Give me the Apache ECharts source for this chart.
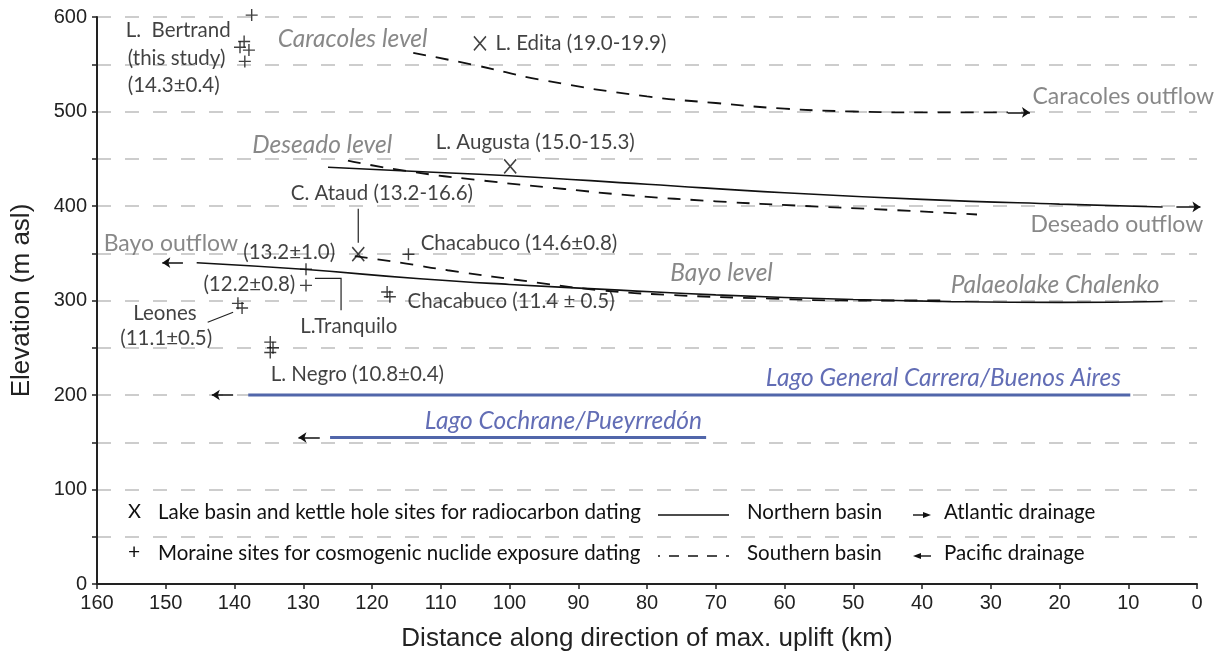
<!DOCTYPE html>
<html>
<head>
<meta charset="utf-8">
<script src="https://cdn.jsdelivr.net/npm/echarts@6/dist/echarts.min.js"></script>
<style>
html,body{margin:0;padding:0;background:#fff}
#main{width:1225px;height:658px}
</style>
</head>
<body>
<div id="main"></div>
<script>
// lake level profiles, [distance km, elevation m asl]
var caracolesSouth = [[114,562],[105,549],[95,533],[80,516],[70,509],[60,503],[50,500],[40,499],[27.5,499]];
var deseadoNorth = [[126.4,441],[115,437],[100,432],[80,423],[60,414],[40,407],[20,402],[5,399]];
var deseadoSouth = [[123.5,448],[115,437],[104,427],[92,418],[82,411],[70,405],[57,400],[45,396],[32,391]];
var bayoNorth = [[145.5,340],[130,333],[113,323],[100,317],[84,311],[70,306],[50,301],[37,299],[20,298],[5,299]];
var bayoSouth = [[122.5,347],[115,339],[109,332],[96,319],[87,311],[77,306],[62,302],[50,300],[37,300]];
var generalCarrera = [[138,200],[9.7,200]];
var cochrane = [[126.1,155],[71.4,155]];

// drainage arrows [from, to]
var atlanticArrows = [[[27.5,499],[24.3,499]], [[3,399],[-0.5,399]]];
var pacificArrows = [[[147.5,340],[150.5,340]], [[140.2,200],[143.3,200]], [[127.6,155],[130.7,155]]];

// dated sites
var radiocarbonSites = [[104.3,572],[99.9,442],[122,349]];
var moraineSites = [[137.5,602],[138.6,574],[139.2,568],[137.9,565],[138.5,553],
  [129.6,333],[129.6,316],[114.7,349],[117.8,309],[117.4,304],
  [139.5,297],[138.9,292],[134.8,256],[134.4,250],[134.8,245]];

// leader lines for labels
var leaders = [
  [[122,397],[122,361]],
  [[143.9,277],[140.2,287.5]],
  [[128.3,323.5],[124.5,323.5],[124.5,289.6]]
];

// labels: [km, elev, text, kind]
var notes = [
  [155.9,585.6,'L.  Bertrand','black'],
  [155.6,556,'(this study)','black'],
  [155.6,527.5,'(14.3\u00b10.4)','black'],
  [133.8,577,'Caracoles level','greyItalic'],
  [102.1,572,'L. Edita (19.0-19.9)','black'],
  [24,516,'Caracoles outflow','grey'],
  [137.5,464,'Deseado level','greyItalic'],
  [110.8,467,'L. Augusta (15.0-15.3)','black'],
  [131.9,413,'C. Ataud (13.2-16.6)','black'],
  [24.3,380.5,'Deseado outflow','grey'],
  [159.1,360.5,'Bayo outflow','grey'],
  [138.8,351,'(13.2\u00b11.0)','black'],
  [113,360.5,'Chacabuco (14.6\u00b10.8)','black'],
  [76.7,329,'Bayo level','greyItalic'],
  [35.9,316,'Palaeolake Chalenko','greyItalic'],
  [144.6,317,'(12.2\u00b10.8)','black'],
  [114.9,299,'Chacabuco (11.4 \u00b1 0.5)','black'],
  [154.8,286.5,'Leones','black'],
  [156.7,260,'(11.1\u00b10.5)','black'],
  [130.5,272.7,'L.Tranquilo','black'],
  [134.8,222,'L. Negro (10.8\u00b10.4)','black'],
  [62.8,217.8,'Lago General Carrera/Buenos Aires','blue'],
  [112.4,172.3,'Lago Cochrane/Pueyrredón','blue']
];

var noteFont = 'Lato';
var noteStyles = {
  black: {color:'#111', fontSize:20.5, fontStyle:'normal'},
  grey: {color:'#6a6a6a', fontSize:23, fontStyle:'normal'},
  greyItalic: {color:'#6a6a6a', fontSize:24.5, fontStyle:'italic'},
  blue: {color:'#3b48a3', fontSize:24.5, fontStyle:'italic'}
};

var chart = echarts.init(document.getElementById('main'));

function profile(name, data, dashed, color, width) {
  return {
    name: name, type: 'line', data: data, smooth: true, symbol: 'none',
    lineStyle: {color: color || '#111', width: width || (dashed ? 1.8 : 1.6), type: dashed ? [13,10] : 'solid'},
    z: 3, silent: true
  };
}

var series = [
  profile('Caracoles S', caracolesSouth, true),
  profile('Deseado N', deseadoNorth, false),
  profile('Deseado S', deseadoSouth, true),
  profile('Bayo N', bayoNorth, false),
  profile('Bayo S', bayoSouth, true),
  profile('General Carrera', generalCarrera, false, '#5166aa', 3),
  profile('Cochrane', cochrane, false, '#5166aa', 3),
  {
    type: 'lines', coordinateSystem: 'cartesian2d', silent: true, clip: false,
    symbol: ['none','arrow'], symbolSize: 8,
    lineStyle: {color:'#111', width:1.5, opacity:1},
    data: atlanticArrows.concat(pacificArrows).map(function(c){ return {coords: c}; })
  },
  {
    type: 'lines', coordinateSystem: 'cartesian2d', polyline: true, silent: true,
    lineStyle: {color:'#222', width:1.2, opacity:1},
    data: leaders.map(function(c){ return {coords: c}; })
  },
  {
    type: 'scatter', data: radiocarbonSites, silent: true, clip: false,
    symbol: 'path://M0,0L10,12M10,0L0,12', symbolSize: [12,14],
    itemStyle: {color:'none', borderColor:'#111', borderWidth:1.6}, z: 4
  },
  {
    type: 'scatter', data: moraineSites, silent: true, clip: false,
    symbol: 'path://M5,0L5,10M0,5L10,5', symbolSize: 12,
    itemStyle: {color:'none', borderColor:'#111', borderWidth:1.4}, z: 4
  },
  {
    type: 'scatter', silent: true, clip: false, symbolSize: 1, itemStyle: {color:'rgba(0,0,0,0)'}, z: 5,
    data: notes.map(function(n){
      var s = noteStyles[n[3]];
      return {
        value: [n[0], n[1]],
        label: {
          show: true, position: 'right', distance: 0, formatter: n[2],
          color: s.color, fontSize: s.fontSize, fontStyle: s.fontStyle, fontFamily: noteFont
        }
      };
    })
  }
];

// legend drawn by hand under the curves
var lgFont = {fontFamily: noteFont, fontSize: 20.5, fill: '#111'};
function lgText(x, y, t) {
  return {type:'text', left:x, top:y - 13, style: Object.assign({text:t}, lgFont), z: 10};
}
var graphic = [
  {type:'text', left:128, top:502, style:{text:'X', fontFamily:noteFont, fontSize:20, fill:'#111'}},
  lgText(158, 515, 'Lake basin and kettle hole sites for radiocarbon dating'),
  {type:'text', left:128, top:542, style:{text:'+', fontFamily:noteFont, fontSize:21, fill:'#111'}},
  lgText(158, 556, 'Moraine sites for cosmogenic nuclide exposure dating'),
  {type:'line', shape:{x1:658,y1:515,x2:729,y2:515}, style:{stroke:'#111', lineWidth:1.4}},
  {type:'line', shape:{x1:658,y1:556,x2:729,y2:556}, style:{stroke:'#111', lineWidth:1.4, lineDash:[10,9], lineDashOffset:8}},
  lgText(747, 515, 'Northern basin'),
  lgText(747, 556, 'Southern basin'),
  {type:'line', shape:{x1:913,y1:515,x2:925,y2:515}, style:{stroke:'#111', lineWidth:1.4}},
  {type:'polygon', shape:{points:[[931,515],[923,512],[923,518]]}, style:{fill:'#111'}},
  {type:'line', shape:{x1:919,y1:556,x2:931,y2:556}, style:{stroke:'#111', lineWidth:1.4}},
  {type:'polygon', shape:{points:[[913,556],[921,553],[921,559]]}, style:{fill:'#111'}},
  lgText(944, 515, 'Atlantic drainage'),
  lgText(944, 556, 'Pacific drainage')
];

var axisFont = {fontFamily:'Liberation Sans', fontSize:20, color:'#222'};
var nameFont = {fontFamily:'Liberation Sans', fontSize:26, color:'#222'};

chart.setOption({
  animation: false,
  backgroundColor: '#fff',
  grid: {left: 97, right: 28, top: 17, bottom: 74},
  xAxis: {
    type: 'value', inverse: true, min: 0, max: 160, interval: 10,
    name: 'Distance along direction of max. uplift (km)',
    nameLocation: 'middle', nameGap: 42,
    nameTextStyle: nameFont,
    axisLine: {show: true, onZero: false, lineStyle: {color:'#222', width:2}},
    axisTick: {show: true, length: 5, lineStyle: {color:'#222', width:1.5}},
    axisLabel: Object.assign({margin: 9}, axisFont),
    splitLine: {show: false}
  },
  yAxis: {
    type: 'value', min: 0, max: 600, interval: 50,
    name: 'Elevation (m asl)',
    nameLocation: 'middle', nameGap: 62,
    nameTextStyle: nameFont,
    axisLine: {show: true, onZero: false, lineStyle: {color:'#222', width:2}},
    axisTick: {show: true, length: 5, lineStyle: {color:'#222', width:1.5}},
    axisLabel: Object.assign({margin: 10, formatter: function(v){ return v % 100 === 0 ? v : ''; }}, axisFont),
    splitLine: {show: true, lineStyle: {color:'#bdbdbd', width:1.5, type:[14,14]}}
  },
  graphic: graphic,
  series: series
});
</script>
</body>
</html>
